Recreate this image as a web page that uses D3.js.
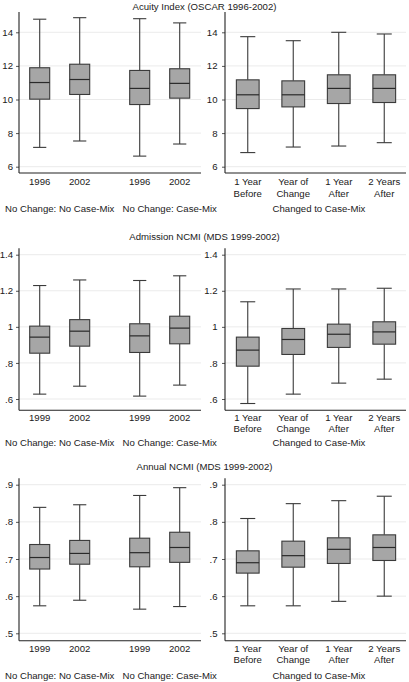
<!DOCTYPE html>
<html><head><meta charset="utf-8">
<script src="https://cdn.jsdelivr.net/npm/d3@7"></script>
<style>
body{margin:0;background:#fff;}
svg{display:block;font-family:"Liberation Sans",Arial,sans-serif;}
</style></head>
<body>
<svg id="chart" width="409" height="682"></svg>
<script>
// ---------- DATA ----------
const titles = ["Acuity Index (OSCAR 1996-2002)", "Admission NCMI (MDS 1999-2002)", "Annual NCMI (MDS 1999-2002)"];
const leftGroups = ["No Change: No Case-Mix", "No Change: Case-Mix"];
const yearsRow1 = ["1996", "2002"];
const yearsRow23 = ["1999", "2002"];
const rightCats = ["1 Year|Before", "Year of|Change", "1 Year|After", "2 Years|After"];
const rightGroupLabel = "Changed to Case-Mix";

const acuityTicks = [6, 8, 10, 12, 14];
const admTicks = [0.6, 0.8, 1.0, 1.2, 1.4];
const annTicks = [0.5, 0.6, 0.7, 0.8, 0.9];

// [lower whisker, Q1, median, Q3, upper whisker]
const acuityLeft = [[7.15,10.02,11.01,11.89,14.78],[7.53,10.30,11.19,12.10,14.87],[6.63,9.70,10.66,11.73,14.81],[7.35,10.08,10.96,11.83,14.56]];
const acuityRight = [[6.84,9.46,10.28,11.17,13.74],[7.17,9.56,10.28,11.11,13.50],[7.23,9.76,10.66,11.47,14.00],[7.43,9.82,10.66,11.47,13.90]];
const admLeft = [[0.627,0.854,0.943,1.004,1.229],[0.671,0.893,0.976,1.040,1.260],[0.616,0.858,0.950,1.017,1.257],[0.677,0.906,0.993,1.059,1.283]];
const admRight = [[0.575,0.782,0.871,0.943,1.139],[0.627,0.847,0.930,0.991,1.210],[0.688,0.886,0.959,1.015,1.210],[0.710,0.904,0.972,1.028,1.214]];
const annLeft = [[0.574,0.673,0.704,0.739,0.839],[0.589,0.686,0.715,0.750,0.846],[0.565,0.679,0.717,0.756,0.871],[0.572,0.691,0.731,0.772,0.892]];
const annRight = [[0.574,0.662,0.690,0.722,0.809],[0.574,0.678,0.709,0.748,0.849],[0.586,0.688,0.726,0.757,0.857],[0.600,0.696,0.731,0.765,0.869]];

// ---------- LAYOUT ----------
const rows = [
  {title: titles[0], ticks: acuityTicks, years: yearsRow1, left: acuityLeft, right: acuityRight,
   yLo: 166.7, yHi: 32.3, axTop: 12, axBot: 173, titleY: 10, lab1: 185, lab2: 196.5, grpY: 211.5},
  {title: titles[1], ticks: admTicks, years: yearsRow23, left: admLeft, right: admRight,
   yLo: 399, yHi: 254.7, axTop: 248.3, axBot: 410.3, titleY: 240.3, lab1: 421, lab2: 431.7, grpY: 446.3},
  {title: titles[2], ticks: annTicks, years: yearsRow23, left: annLeft, right: annRight,
   yLo: 633.3, yHi: 484.7, axTop: 478.3, axBot: 640.7, titleY: 470, lab1: 651.5, lab2: 663.2, grpY: 679}
];

const L = {x0: 19, x1: 201, boxL: 19.7, boxR: 199.7};
const R = {x0: 225, x1: 406, boxL: 225, boxR: 407};

const FS = 9.6;
const TXT = "#1a1a1a";
const fill = "#a6a6a6";
const stroke = "#3a3a3a";
const gridC = "#ebebeb";

const svg = d3.select("#chart");
const fmt = v => { let s = d3.format("~g")(+v.toFixed(3)); return s.replace(/^0\./, "."); };

const groupScale = d3.scaleBand().domain(leftGroups).range([L.boxL, L.boxR]).paddingInner(0.2).paddingOuter(0);
const rightScale = d3.scaleBand().domain(rightCats).range([R.boxL, R.boxR]).paddingInner(0.5).paddingOuter(0.25);

function drawBox(g, cx, bw, s, y) {
  const cap = bw * 0.66;
  const [lo, q1, md, q3, hi] = s;
  g.append("line").attr("x1", cx).attr("x2", cx).attr("y1", y(q3)).attr("y2", y(hi)).attr("stroke", stroke).attr("stroke-width", 1.1);
  g.append("line").attr("x1", cx).attr("x2", cx).attr("y1", y(q1)).attr("y2", y(lo)).attr("stroke", stroke).attr("stroke-width", 1.1);
  g.append("line").attr("x1", cx - cap/2).attr("x2", cx + cap/2).attr("y1", y(hi)).attr("y2", y(hi)).attr("stroke", stroke).attr("stroke-width", 1.1);
  g.append("line").attr("x1", cx - cap/2).attr("x2", cx + cap/2).attr("y1", y(lo)).attr("y2", y(lo)).attr("stroke", stroke).attr("stroke-width", 1.1);
  g.append("rect").attr("x", cx - bw/2).attr("y", y(q3)).attr("width", bw).attr("height", y(q1) - y(q3))
    .attr("fill", fill).attr("stroke", stroke).attr("stroke-width", 1.1);
  g.append("line").attr("x1", cx - bw/2).attr("x2", cx + bw/2).attr("y1", y(md)).attr("y2", y(md)).attr("stroke", "#2a2a2a").attr("stroke-width", 1.2);
}

function drawYAxis(g, P, y, row, pad) {
  // grid
  g.selectAll(null).data(row.ticks).enter().append("line")
    .attr("x1", P.x0).attr("x2", P.x1).attr("y1", d => y(d)).attr("y2", d => y(d))
    .attr("stroke", gridC).attr("stroke-width", 1);
  const ax = d3.axisLeft(y).tickValues(row.ticks).tickFormat(fmt).tickSize(3).tickPadding(pad).tickSizeOuter(0);
  const a = g.append("g").attr("transform", `translate(${P.x0},0)`).call(ax);
  a.select(".domain").remove();
  a.selectAll(".tick line").attr("stroke", "#555");
  a.selectAll(".tick text").attr("font-size", FS).attr("fill", TXT).attr("font-family", "Liberation Sans, Arial, sans-serif");
  g.append("line").attr("x1", P.x0).attr("x2", P.x0).attr("y1", row.axTop).attr("y2", row.axBot).attr("stroke", "#222").attr("stroke-width", 1.1);
  g.append("line").attr("x1", P.x0).attr("x2", P.x1).attr("y1", row.axBot).attr("y2", row.axBot).attr("stroke", "#222").attr("stroke-width", 1.1);
}

rows.forEach(row => {
  const y = d3.scaleLinear().domain([row.ticks[0], row.ticks[row.ticks.length - 1]]).range([row.yLo, row.yHi]);
  const g = svg.append("g");

  // title
  g.append("text").attr("x", 204.5).attr("y", row.titleY).attr("text-anchor", "middle")
    .attr("font-size", FS).attr("fill", TXT).text(row.title);

  // ---- left panel ----
  drawYAxis(g, L, y, row, 3);
  const inner = d3.scaleBand().domain(row.years).range([0, groupScale.bandwidth()]).paddingInner(0.5).paddingOuter(0.25);
  leftGroups.forEach((grp, gi) => {
    row.years.forEach((yr, yi) => {
      const cx = groupScale(grp) + inner(yr) + inner.bandwidth() / 2;
      drawBox(g, cx, inner.bandwidth(), row.left[gi * 2 + yi], y);
      g.append("text").attr("x", cx).attr("y", row.lab1).attr("text-anchor", "middle")
        .attr("font-size", FS).attr("fill", TXT).text(yr);
    });
    const gc = groupScale(grp) + groupScale.bandwidth() / 2 + (gi === 1 ? 10 : 0);
    g.append("text").attr("x", gc).attr("y", row.grpY).attr("text-anchor", "middle")
      .attr("font-size", FS).attr("fill", TXT).text(grp);
  });

  // ---- right panel ----
  drawYAxis(g, R, y, row, 4.5);
  rightCats.forEach((c, i) => {
    const cx = rightScale(c) + rightScale.bandwidth() / 2;
    drawBox(g, cx, rightScale.bandwidth(), row.right[i], y);
    const parts = c.split("|");
    g.append("text").attr("x", cx).attr("y", row.lab1).attr("text-anchor", "middle")
      .attr("font-size", FS).attr("fill", TXT).text(parts[0]);
    g.append("text").attr("x", cx).attr("y", row.lab2).attr("text-anchor", "middle")
      .attr("font-size", FS).attr("fill", TXT).text(parts[1]);
  });
  g.append("text").attr("x", 319).attr("y", row.grpY).attr("text-anchor", "middle")
    .attr("font-size", FS).attr("fill", TXT).text(rightGroupLabel);
});
</script>
</body></html>
